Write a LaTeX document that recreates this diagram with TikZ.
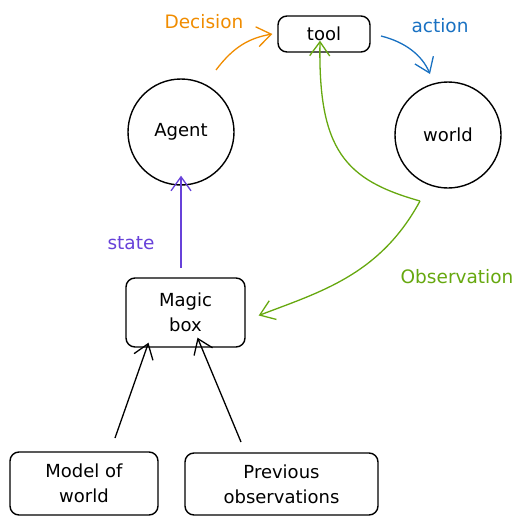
\documentclass[tikz,border=0pt]{standalone}
\usepackage{fontspec}
\setmainfont{DejaVu Sans}
\usetikzlibrary{arrows.meta}
\definecolor{cOrange}{HTML}{F08C00}
\definecolor{cBlue}{HTML}{1971C2}
\definecolor{cPurple}{HTML}{6741D9}
\definecolor{cGreen}{HTML}{66A80F}
\tikzset{
  box/.style={draw=black, line width=1.4pt, rounded corners=9pt, align=center, font=\fontsize{18}{25}\selectfont, inner sep=0pt},
  circ/.style={draw=black, line width=1.4pt, circle, minimum size=106pt, inner sep=0pt, font=\fontsize{18}{22}\selectfont},
  arr/.style={line width=1.3pt, -{Straight Barb[length=14pt,width=20pt,line width=1.3pt]}},
  lbl/.style={font=\fontsize{18.5}{22}\selectfont}
}
\begin{document}
\begin{tikzpicture}[x=1pt,y=-1pt]
\useasboundingbox (0,0) rectangle (524,527);
\node[box, minimum width=92pt, minimum height=36pt] (tool) at (324,34) {tool};
\node[circ] (agent) at (181,132) {Agent};
\node[circ] (world) at (448,135) {world};
\node[box, minimum width=119pt, minimum height=69pt] (magic) at (185.5,312.5) {Magic\\box};
\node[box, minimum width=148pt, minimum height=63pt] (model) at (84,483.5) {Model of\\world};
\node[box, minimum width=193pt, minimum height=62pt] (prev) at (281.5,484) {Previous\\observations};
% labels
\node[lbl, text=cOrange] (ldec) at (204,22) {Decision};
\node[lbl, text=cBlue] (lact) at (440,26) {action};
\node[lbl, text=cPurple] (lstate) at (131,243) {state};
\node[lbl, text=cGreen] (lobs) at (457,277) {Observation};
% coordinates
\coordinate (decS) at (216,70);
\coordinate (actS) at (381,36);
\coordinate (actE) at (430,74);
\coordinate (obs) at (420,201);
\coordinate (stS) at (181,268);
\coordinate (mS) at (115,438);
\coordinate (pS) at (241,442);
% arrows
\draw[arr, cOrange] (decS) .. controls (234,46) and (250,38) .. ([xshift=-5pt]tool.west);
\draw[arr, cBlue] (actS) .. controls (405,42) and (422,55) .. (actE);
\draw[arr, cPurple] (stS) -- ([yshift=10pt]agent.south);
\draw[arr, cGreen] (obs) .. controls (345,180) and (318,150) .. ([xshift=-4pt,yshift=12pt]tool.south);
\draw[arr, cGreen] (obs) .. controls (380,275) and (320,292) .. ([xshift=13pt,yshift=-3pt]magic.east);
\draw[arr, black] (mS) -- ([xshift=-37pt,yshift=5pt]magic.south);
\draw[arr, black] (pS) -- ([xshift=12pt,yshift=10pt]magic.south);
\end{tikzpicture}
\end{document}
